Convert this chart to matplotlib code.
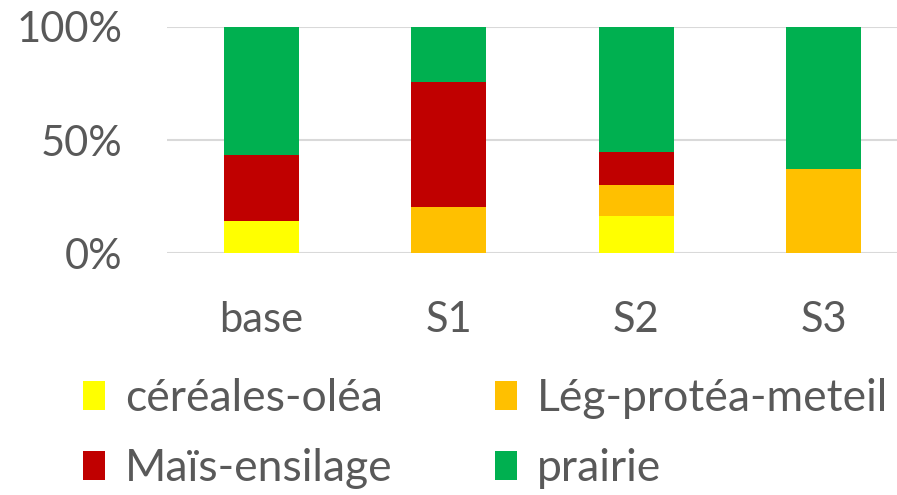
import matplotlib
matplotlib.use("Agg")
import matplotlib.pyplot as plt
from matplotlib.patches import Patch
import numpy as np

categories = ["base", "S1", "S2", "S3"]
series_names = ["céréales-oléa", "Lég-protéa-meteil", "Maïs-ensilage", "prairie"]
cereales = [14.4, 0.0, 16.3, 0.0]
leg_protea = [0.0, 20.3, 13.7, 37.1]
mais = [28.8, 55.4, 14.6, 0.0]
prairie = [56.8, 24.3, 55.4, 62.9]
colors = ["#FFFF00", "#FFC000", "#C00000", "#00B050"]
ytick_labels = ["0%", "50%", "100%"]

plt.rcParams['font.family'] = ['Lato', 'DejaVu Sans']
TXT = "#595959"

W, H = 897, 495
fig = plt.figure(figsize=(W / 100, H / 100), dpi=100)
left, right = 167.3, 917.6
bottom, top = 495 - 253.3, 495 - 26.7
ax = fig.add_axes([left / W, bottom / H, (right - left) / W, (top - bottom) / H])

x = np.arange(len(categories))
base = np.zeros(len(categories))
handles = []
for name, vals, c in zip(series_names, [cereales, leg_protea, mais, prairie], colors):
    ax.bar(x, vals, width=0.4, bottom=base, color=c, zorder=3)
    base += np.array(vals)
    handles.append(Patch(facecolor=c, label=name))

ax.set_xlim(-0.5, len(categories) - 0.5)
ax.set_ylim(0, 100)
ax.set_yticks([0, 50, 100])
ax.set_yticklabels(ytick_labels)
ax.set_xticks(x)
ax.set_xticklabels(categories)
ax.yaxis.grid(True, color="#D9D9D9", linewidth=1.5, zorder=0)
ax.set_axisbelow(True)
for s in ax.spines.values():
    s.set_visible(False)
ax.tick_params(axis='both', length=0, labelsize=30, colors=TXT)
ax.tick_params(axis='y', pad=32)
ax.tick_params(axis='x', pad=34)

# row-major ordering for a 2-column legend
order = [0, 2, 1, 3]
leg = fig.legend(handles=[handles[i] for i in order], ncol=2, loc="upper left",
                 bbox_to_anchor=(83 / W, 1 - 378 / H), frameon=False,
                 fontsize=32, labelcolor=TXT, handlelength=0.5, handleheight=0.62,
                 handletextpad=0.45, columnspacing=2.3, labelspacing=0.66,
                 borderaxespad=0, borderpad=0)

fig.savefig("out.png", dpi=100)
